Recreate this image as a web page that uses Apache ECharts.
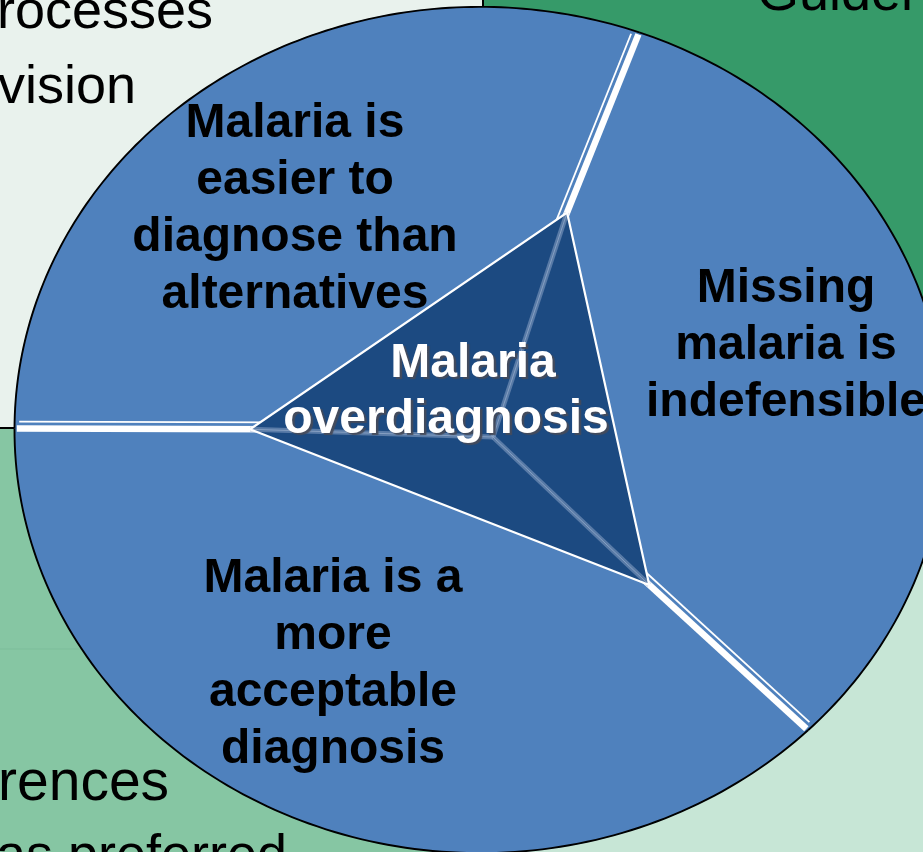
<!DOCTYPE html>
<html>
<head>
<meta charset="utf-8">
<script src="https://cdn.jsdelivr.net/npm/echarts@6/dist/echarts.min.js"></script>
<style>
html,body{margin:0;padding:0;background:#fff;}
#chart{width:923px;height:852px;}
</style>
</head>
<body>
<div id="chart"></div>
<script>
// ---------------- data ----------------
const sliceLabels = [
  'Missing\nmalaria is\nindefensible',
  'Malaria is a\nmore\nacceptable\ndiagnosis',
  'Malaria is\neasier to\ndiagnose than\nalternatives'
];
const sliceShares = [32, 37.5, 30.5];          // share of the circle, percent
const hubLines = ['Malaria', 'overdiagnosis'];
const backdropLines = ['rocesses', 'vision', '\u2022 Guidel', 'rences', 'as preferred'];

// derived: start of each slice on the angle axis
const bounds = sliceShares.map((v, i) => sliceShares.slice(0, i).reduce((s, x) => s + x, 0));

// ---------------- layout / style ----------------
const CX = 480, CY = 430, R = 465.5, SQUASH = 0.909;
const hubReach = [0.547, 0.516, 0.494];   // triangle vertex radius on each boundary
const hubApexShift = [13, 7];
const FONT = '"Liberation Sans", Arial, Helvetica, sans-serif';
const BLUE = '#4F81BD', DARK = '#1C4A81';

function squash(p, cy) { return [p[0], cy + (p[1] - cy) * SQUASH]; }

function renderSlice(params, api) {
  const cy = params.coordSys.cy;
  const a0 = api.value(0), a1 = api.value(1);
  const pts = [squash(api.coord([0, a0]), cy)];
  const n = 120;
  for (let k = 0; k <= n; k++) pts.push(squash(api.coord([1, a0 + (a1 - a0) * k / n]), cy));
  return { type: 'polygon', shape: { points: pts }, style: { fill: BLUE, stroke: BLUE, lineWidth: 0.6 } };
}

function renderRim(params, api) {
  const cy = params.coordSys.cy;
  const a0 = api.value(0), a1 = api.value(1);
  const pts = [];
  const n = 120;
  for (let k = 0; k <= n; k++) pts.push(squash(api.coord([1, a0 + (a1 - a0) * k / n]), cy));
  return { type: 'polyline', shape: { points: pts }, style: { stroke: '#000', lineWidth: 1.9, fill: null } };
}

function renderDivider(params, api) {
  const cy = params.coordSys.cy;
  const i = params.dataIndex;
  const b = api.value(1);
  const inner = squash(api.coord([hubReach[i] * 0.9, b]), cy);
  const outer = squash(api.coord([0.995, b]), cy);
  const outerThin = squash(api.coord([0.99, b]), cy);
  let dx = outer[0] - inner[0], dy = outer[1] - inner[1];
  const L = Math.hypot(dx, dy); dx /= L; dy /= L;
  let nx = -dy, ny = dx;
  if (ny > 0 || (ny === 0 && nx > 0)) { nx = -nx; ny = -ny; }
  const off = 7;
  return {
    type: 'group',
    children: [
      { type: 'line', shape: { x1: inner[0], y1: inner[1], x2: outer[0], y2: outer[1] },
        style: { stroke: '#fff', lineWidth: 6.5 } },
      { type: 'line', shape: { x1: inner[0] + nx * off, y1: inner[1] + ny * off,
                               x2: outerThin[0] + nx * off, y2: outerThin[1] + ny * off },
        style: { stroke: '#fff', lineWidth: 1.8 } }
    ]
  };
}

function renderHub(params, api) {
  const cy = params.coordSys.cy;
  const centre = api.coord([0, 0]);
  const verts = bounds.map((b, i) => squash(api.coord([hubReach[i], b]), cy));
  const apex = [centre[0] + hubApexShift[0], centre[1] + hubApexShift[1]];
  const children = [
    { type: 'polygon', shape: { points: verts },
      style: { fill: DARK, stroke: null } }
  ];
  verts.forEach(v => {
    children.push({ type: 'line', shape: { x1: v[0], y1: v[1], x2: apex[0], y2: apex[1] },
      style: { stroke: 'rgba(150,172,205,0.5)', lineWidth: 5 } });
    children.push({ type: 'line', shape: { x1: v[0], y1: v[1], x2: apex[0], y2: apex[1] },
      style: { stroke: 'rgba(200,212,232,0.4)', lineWidth: 1 } });
  });
  children.push({ type: 'polygon', shape: { points: verts },
    style: { fill: null, stroke: '#fff', lineWidth: 2.2, lineJoin: 'miter', miterLimit: 10 } });
  return { type: 'group', children: children };
}

// ---------------- text placement ----------------
const sliceLabelPos = [[786, 345.5], [333, 664], [295, 209]];
const hubPos = [[473, 363.7], [446, 419.7]];
const backdropPos = [[-3, 13.5], [-2, 88.5], [723, -4.5], [-2, 784.5], [-4, 857.5]];
const backdropSize = [54, 54, 54, 57, 54];

const graphics = [
  // backdrop cells
  { type: 'rect', z: -10, shape: { x: 0, y: 0, width: 483, height: 428 }, style: { fill: '#E9F2ED' } },
  { type: 'rect', z: -10, shape: { x: 483, y: 0, width: 440, height: 428 }, style: { fill: '#369A69' } },
  { type: 'rect', z: -10, shape: { x: 0, y: 428, width: 483, height: 424 }, style: { fill: '#86C6A3' } },
  { type: 'rect', z: -10, shape: { x: 483, y: 428, width: 440, height: 424 }, style: { fill: '#C7E6D6' } },
  { type: 'line', z: -9, shape: { x1: 0, y1: 649, x2: 483, y2: 649 }, style: { stroke: '#7DBD9A', lineWidth: 1 } },
  { type: 'line', z: -9, shape: { x1: 483, y1: 558, x2: 923, y2: 558 }, style: { stroke: '#B8DBC9', lineWidth: 1 } },
  { type: 'line', z: -8, shape: { x1: 483, y1: 0, x2: 483, y2: 428 }, style: { stroke: '#000', lineWidth: 2 } },
  { type: 'line', z: -8, shape: { x1: 0, y1: 428, x2: 483, y2: 428 }, style: { stroke: '#000', lineWidth: 2 } }
];
backdropLines.forEach((t, i) => {
  graphics.push({ type: 'text', z: -5, x: backdropPos[i][0], y: backdropPos[i][1],
    style: { text: t, font: backdropSize[i] + 'px ' + FONT, fill: '#000', align: 'left', verticalAlign: 'middle' } });
});
sliceLabels.forEach((t, i) => {
  graphics.push({ type: 'text', z: 50, x: sliceLabelPos[i][0], y: sliceLabelPos[i][1],
    style: { text: t, font: 'bold 48px ' + FONT, fill: '#000', align: 'center',
             verticalAlign: 'middle', lineHeight: 57 } });
});
hubLines.forEach((t, i) => {
  graphics.push({ type: 'text', z: 51, x: hubPos[i][0], y: hubPos[i][1],
    style: { text: t, font: 'bold 48px ' + FONT, fill: '#fff', align: 'center', verticalAlign: 'middle',
             textShadowColor: 'rgba(70,75,90,0.95)', textShadowBlur: 1,
             textShadowOffsetX: 2.5, textShadowOffsetY: 2.5 } });
});

const chart = echarts.init(document.getElementById('chart'), null, { renderer: 'canvas' });
chart.setOption({
  animation: false,
  backgroundColor: '#fff',
  polar: { center: [CX, CY], radius: [0, R] },
  angleAxis: { type: 'value', min: 0, max: 100, startAngle: 70, clockwise: true, show: false },
  radiusAxis: { type: 'value', min: 0, max: 1, show: false },
  series: [
    { type: 'custom', name: 'slices', coordinateSystem: 'polar', z: 2,
      data: sliceShares.map((v, i) => [bounds[i], bounds[i] + v]), renderItem: renderSlice },
    { type: 'custom', name: 'dividers', coordinateSystem: 'polar', z: 3,
      data: bounds.map(b => [b, b]), renderItem: renderDivider },
    { type: 'custom', name: 'rim', coordinateSystem: 'polar', z: 4,
      data: sliceShares.map((v, i) => [bounds[i], bounds[i] + v]), renderItem: renderRim },
    { type: 'custom', name: 'hub', coordinateSystem: 'polar', z: 5,
      data: [[0, 0]], renderItem: renderHub }
  ],
  graphic: graphics
});
</script>
</body>
</html>
